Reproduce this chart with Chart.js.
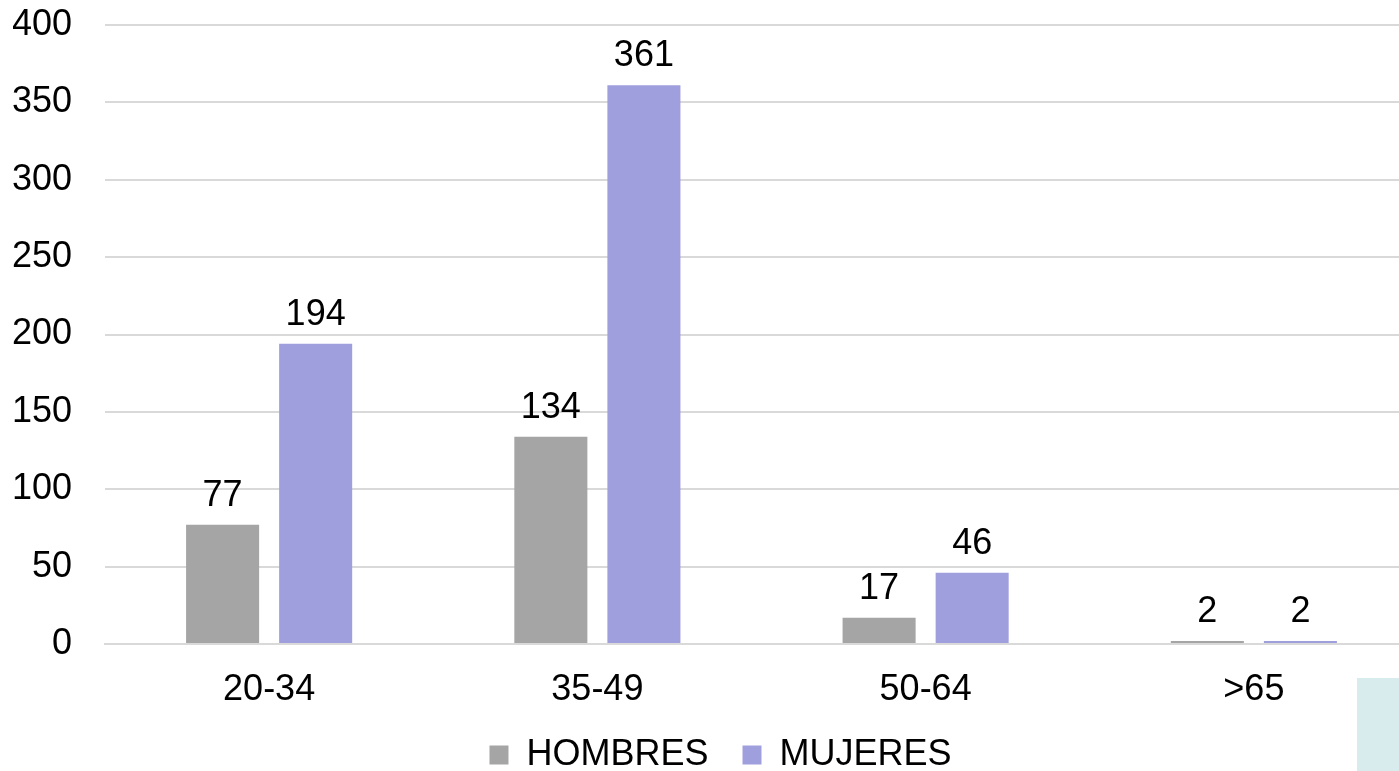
<!DOCTYPE html>
<html>
<head>
<meta charset="utf-8">
<script src="https://cdn.jsdelivr.net/npm/chart.js@4.4.1/dist/chart.umd.min.js"></script>
<style>
  html, body { margin: 0; padding: 0; background: #ffffff; overflow: hidden; width: 1399px; height: 771px; }
  #wrap { position: relative; width: 1451px; height: 790px; }
  #c { position: absolute; left: 0; top: 0; }
  #corner { position: absolute; left: 1357px; top: 678px; width: 42px; height: 93px; background: #d8ecee; }
</style>
</head>
<body>
<div id="wrap">
  <canvas id="c" width="1451" height="790"></canvas>
</div>
<div id="corner"></div>
<script>
const categories = ["20-34", "35-49", "50-64", ">65"];
const hombres = [77, 134, 17, 2];
const mujeres = [194, 361, 46, 2];
const seriesNames = ["HOMBRES", "MUJERES"];
const yTicks = [0, 50, 100, 150, 200, 250, 300, 350, 400];

const FONT = "'Liberation Sans', Arial, sans-serif";
const FS = 36;

const valueLabels = {
  id: 'valueLabels',
  afterDatasetsDraw(chart) {
    const ctx = chart.ctx;
    ctx.save();
    ctx.font = FS + "px " + FONT;
    ctx.fillStyle = "#000000";
    ctx.textAlign = "center";
    ctx.textBaseline = "alphabetic";
    chart.data.datasets.forEach((ds, i) => {
      const meta = chart.getDatasetMeta(i);
      meta.data.forEach((bar, j) => {
        ctx.fillText(String(ds.data[j]), bar.x, bar.y - 19);
      });
    });
    ctx.restore();
  }
};

const legendShift = {
  id: 'legendShift',
  afterLayout(chart) {
    const lg = chart.legend;
    if (!lg) return;
    lg.left += 5; lg.right += 5;
  }
};

new Chart(document.getElementById('c'), {
  type: 'bar',
  data: {
    labels: categories,
    datasets: [
      { label: seriesNames[0], data: hombres, backgroundColor: '#a5a5a5', borderWidth: 0 },
      { label: seriesNames[1], data: mujeres, backgroundColor: '#a09fdd', borderWidth: 0 }
    ]
  },
  options: {
    responsive: false,
    devicePixelRatio: 1,
    animation: false,
    layout: { padding: { top: 25, left: 13, right: 33, bottom: 7 } },
    datasets: { bar: { categoryPercentage: 0.567, barPercentage: 0.785 } },
    scales: {
      x: {
        grid: { display: false, drawTicks: false },
        border: { display: true, color: '#d9d9d9', width: 2 },
        ticks: { color: '#000000', font: { family: FONT, size: FS }, padding: 24, maxRotation: 0 },
        afterFit(scale) { scale.height = 59; scale.paddingLeft = 0; scale.paddingRight = 0; }
      },
      y: {
        min: 0, max: 400,
        afterBuildTicks(scale) { scale.ticks = yTicks.map(v => ({ value: v })); },
        grid: { color: '#d9d9d9', lineWidth: 2, drawTicks: false },
        border: { display: false },
        ticks: { color: '#000000', font: { family: FONT, size: FS }, padding: 33 },
        afterFit(scale) { scale.width = 92; scale.paddingTop = 0; scale.paddingBottom = 0; }
      }
    },
    plugins: {
      legend: {
        position: 'bottom',
        labels: {
          color: '#000000',
          font: { family: FONT, size: FS },
          boxWidth: 19, boxHeight: 19, padding: 34
        }
      },
      tooltip: { enabled: false }
    }
  },
  plugins: [valueLabels, legendShift]
});
</script>
</body>
</html>
